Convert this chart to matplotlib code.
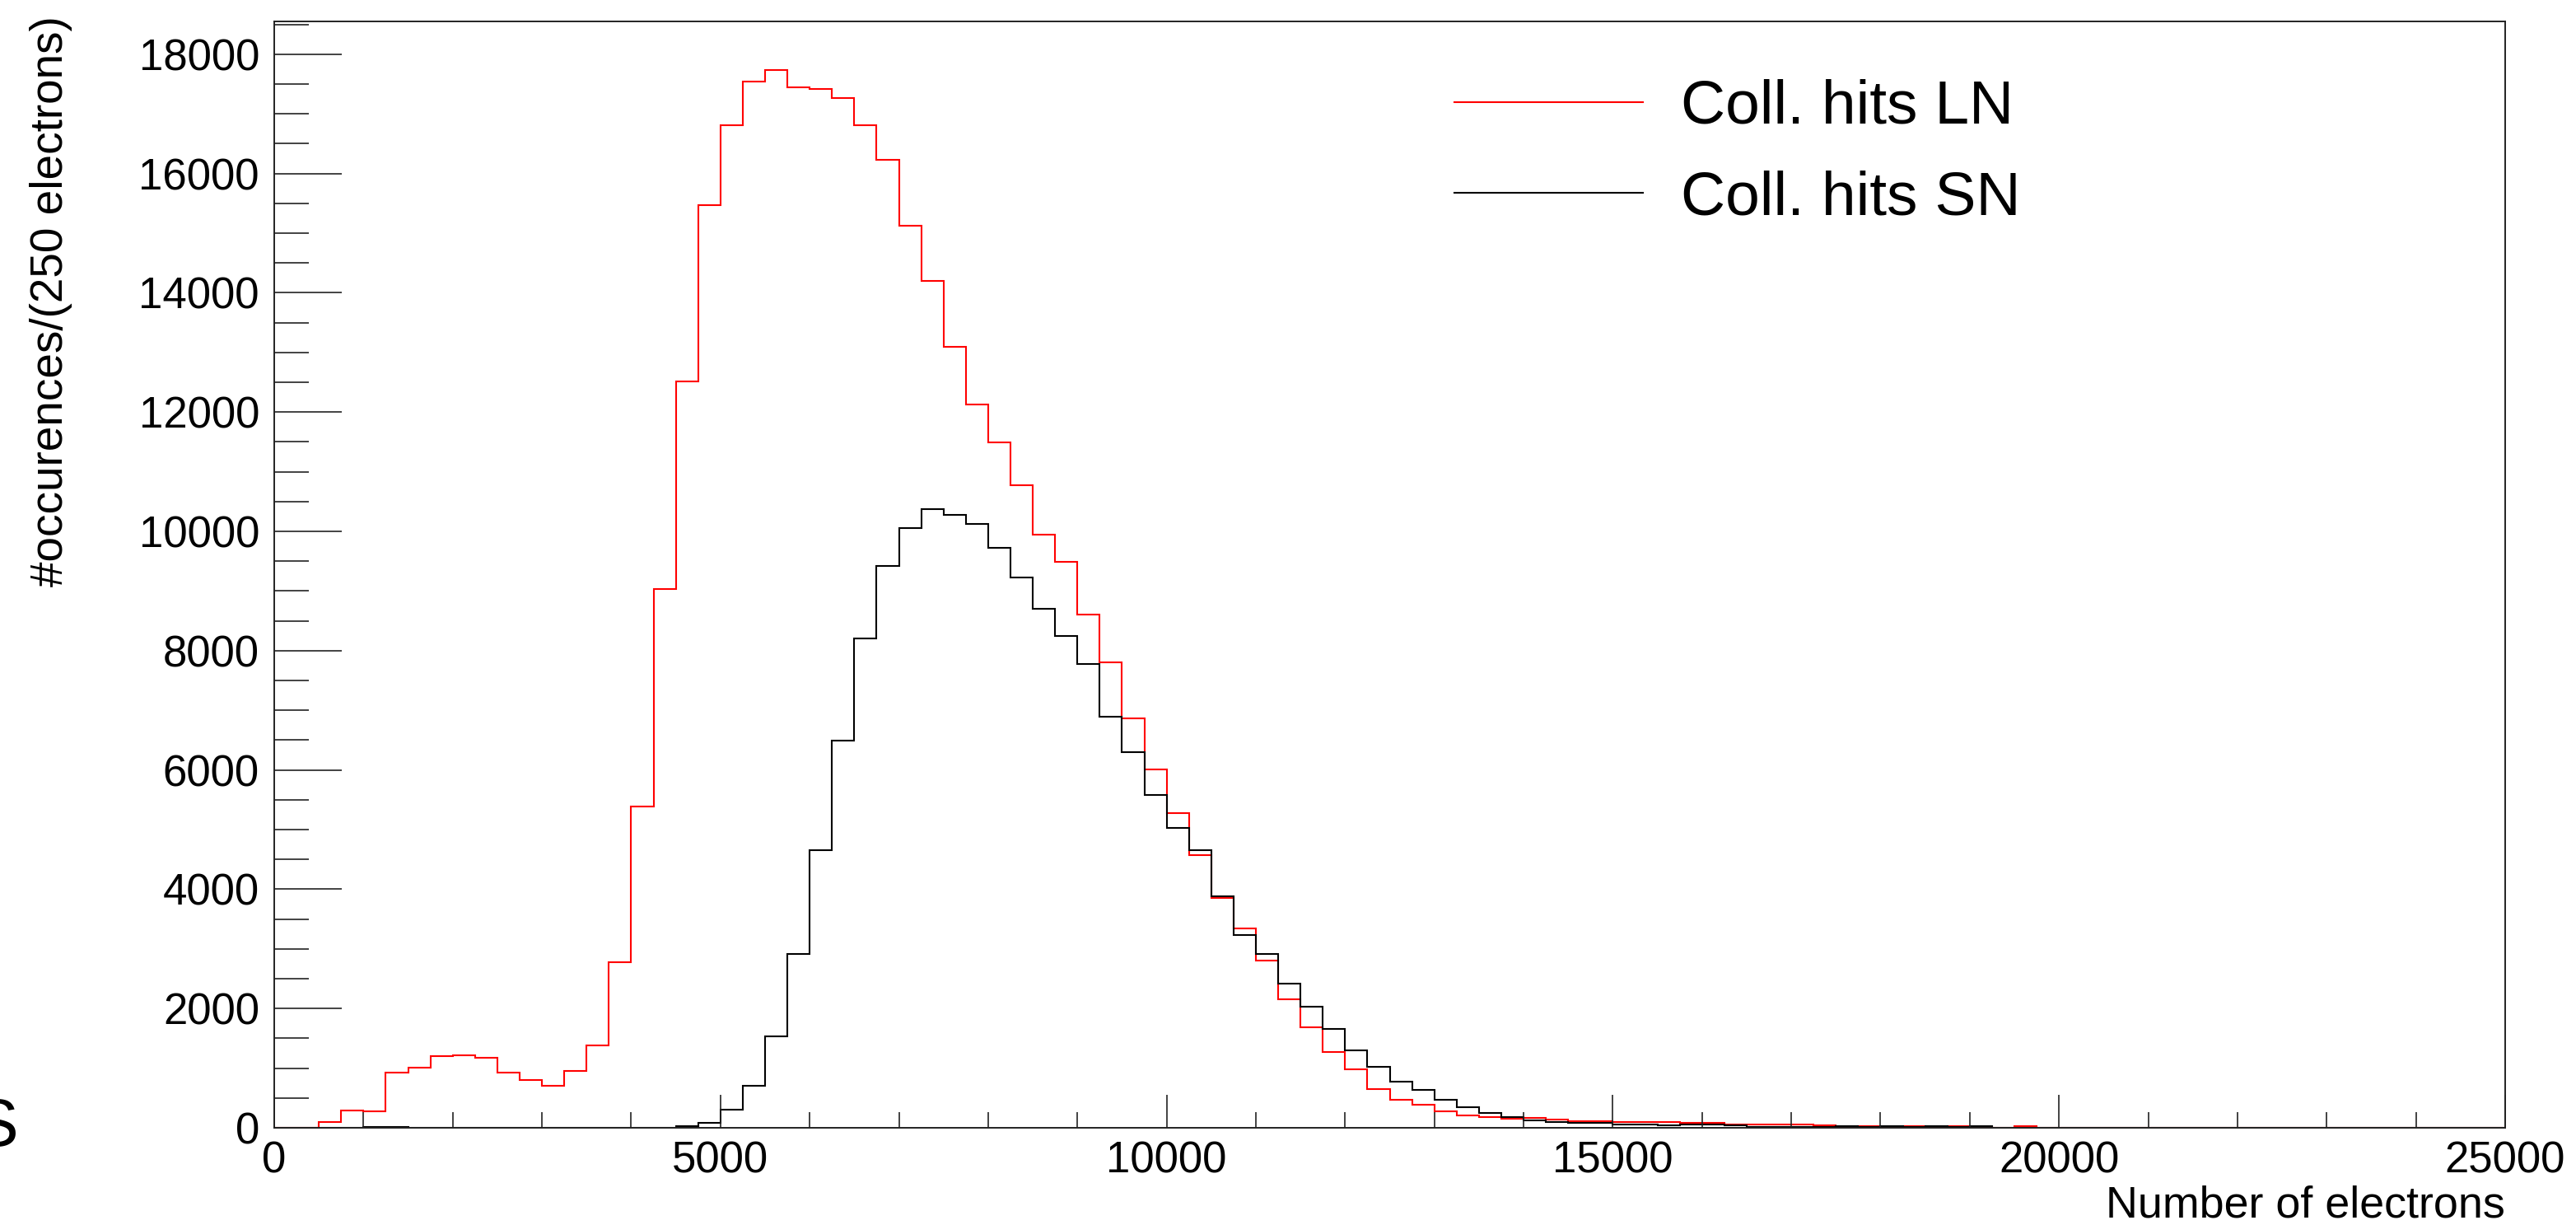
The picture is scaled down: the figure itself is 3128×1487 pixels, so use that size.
import numpy as np
import matplotlib
matplotlib.use("Agg")
import matplotlib.pyplot as plt

plt.rcParams['font.family'] = ['Liberation Sans', 'DejaVu Sans']

# bins of 250 electrons from 0 to 25000
bin_edges = np.arange(0, 25001, 250)

# Coll. hits LN (red)
hits_ln = [
    0, 0, 100, 290, 270, 924, 1003, 1197, 1220, 1174,
    924, 804, 702, 955, 1380, 2770, 5390, 9030, 12520, 15470,
    16810, 17540, 17740, 17440, 17420, 17270, 16810, 16230, 15130, 14200,
    13100, 12130, 11490, 10770, 9950, 9490, 8600, 7810, 6860, 6010,
    5270, 4570, 3860, 3340, 2805, 2155, 1680, 1275, 980, 655,
    465, 385, 275, 205, 180, 157, 170, 140, 110, 110,
    95, 92, 90, 88, 80, 60, 55, 50, 50, 45,
    15, 30, 15, 30, 15, 30, 10, 0, 30, 0,
    0, 0, 0, 0, 0, 0, 0, 0, 0, 0,
    0, 0, 0, 0, 0, 0, 0, 0, 0, 0,
]

# Coll. hits SN (black)
hits_sn = [
    0, 0, 0, 0, 15, 15, 0, 0, 0, 0,
    0, 0, 0, 0, 0, 0, 0, 0, 25, 80,
    300, 706, 1540, 2908, 4660, 6490, 8200, 9417, 10052, 10367,
    10275, 10126, 9719, 9230, 8705, 8250, 7780, 6886, 6294, 5585,
    5030, 4660, 3883, 3229, 2908, 2416, 2027, 1663, 1299, 1029,
    776, 641, 466, 339, 244, 173, 125, 102, 86, 86,
    62, 62, 46, 62, 62, 46, 20, 20, 20, 20,
    25, 10, 25, 10, 25, 10, 25, 0, 0, 0,
    0, 0, 0, 0, 0, 0, 0, 0, 0, 0,
    0, 0, 0, 0, 0, 0, 0, 0, 0, 0,
]

W, H = 3128, 1487
fig = plt.figure(figsize=(W / 100, H / 100), dpi=100)
ax = fig.add_axes([333 / W, 1 - 1369 / H, (3042 - 333) / W, (1369 - 26) / H])

ax.stairs(hits_ln, bin_edges, color='#ff0000', lw=1.5, label='Coll. hits LN')
ax.stairs(hits_sn, bin_edges, color='black', lw=1.5, label='Coll. hits SN')

ax.set_xlim(0, 25000)
ax.set_ylim(0, 18550)

ax.set_xticks(np.arange(0, 25001, 5000))
ax.set_xticks(np.arange(0, 25001, 1000), minor=True)
ax.set_yticks(np.arange(0, 18001, 2000))
ax.set_yticks(np.arange(0, 18501, 500), minor=True)

ax.tick_params(axis='both', which='both', direction='in', top=False, right=False,
               labelsize=38, width=1.2, color='#222222')
ax.tick_params(axis='y', which='major', length=59, pad=13)
ax.tick_params(axis='y', which='minor', length=30)
ax.tick_params(axis='x', which='major', length=29, pad=11)
ax.tick_params(axis='x', which='minor', length=14)

for sp in ax.spines.values():
    sp.set_linewidth(1.4)
    sp.set_color('#222222')

fig.text(62 / W, 1 - 19 / H, '#occurences/(250 electrons)', rotation=90,
         ha='center', va='top', fontsize=39.5)
fig.text(3042 / W, 1 - 1477 / H, 'Number of electrons', ha='right',
         va='baseline', fontsize=38.8)

# piece of a letter cut off at the left edge
fig.text(22 / W, 1 - 1391 / H, 'S', ha='right', va='baseline', fontsize=59)

ax.legend(loc='upper left', bbox_to_anchor=(1766 / W, 1 - 96 / H),
          bbox_transform=fig.transFigure, frameon=False, fontsize=54,
          borderpad=0, borderaxespad=0, handlelength=3.05, handletextpad=0.62,
          labelspacing=0.55)

fig.savefig('out.png', dpi=100)
